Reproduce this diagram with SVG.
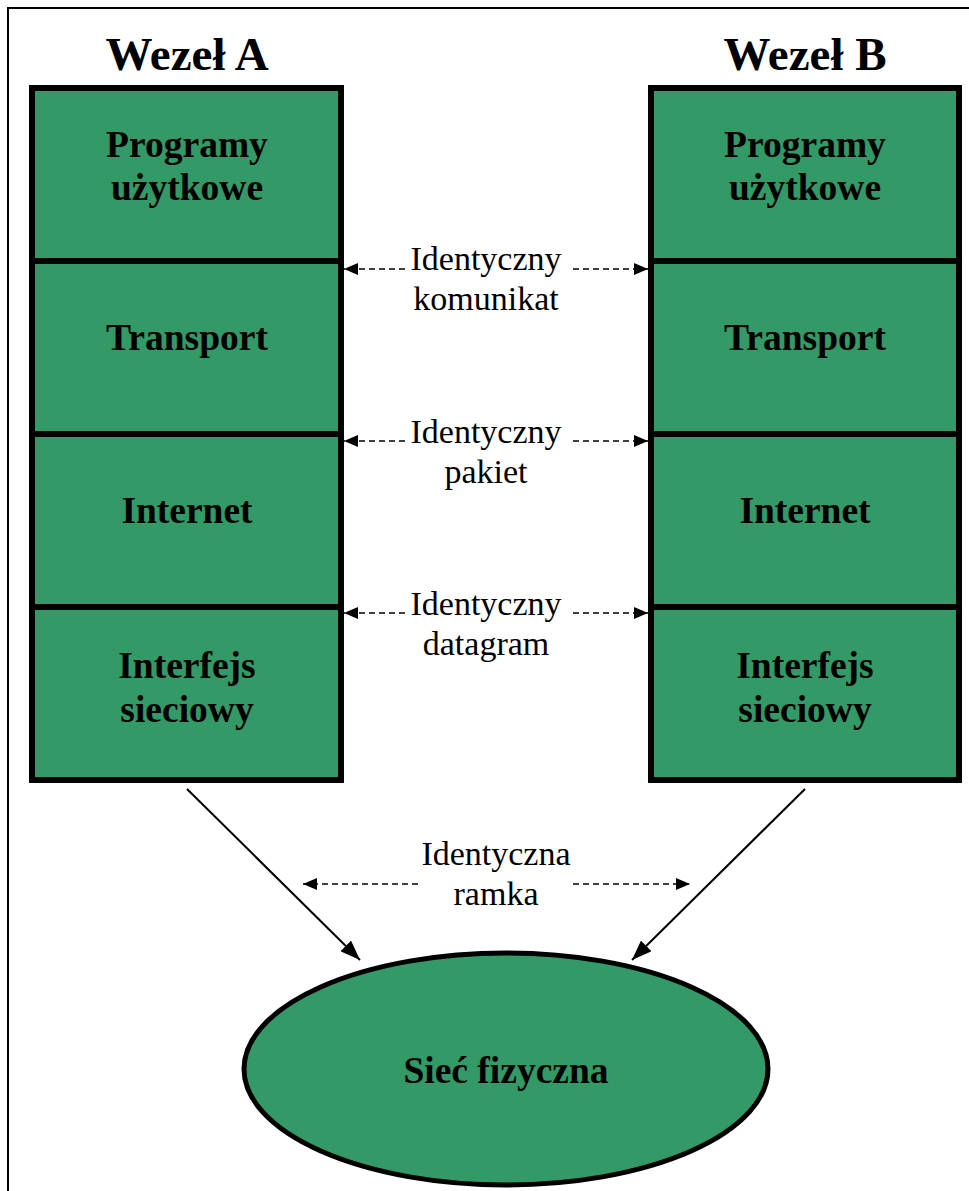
<svg xmlns="http://www.w3.org/2000/svg" width="969" height="1191" viewBox="0 0 969 1191">
<defs>
<marker id="ah" viewBox="0 0 14 12" refX="14" refY="6" markerWidth="14" markerHeight="12" markerUnits="userSpaceOnUse" orient="auto-start-reverse">
<path d="M0,0 L14,6 L0,12 Z" fill="#000"/>
</marker>
<marker id="ah2" viewBox="0 0 20 15" refX="20" refY="7.5" markerWidth="20" markerHeight="15" markerUnits="userSpaceOnUse" orient="auto">
<path d="M0,0 L20,7.5 L0,15 Z" fill="#000"/>
</marker>
<style>
.layer{fill:#339966;stroke:#000;stroke-width:6}
.bt{font-family:"Liberation Serif","Times New Roman",serif;font-weight:bold;font-size:37.5px;text-anchor:middle;fill:#000}
.ht{font-family:"Liberation Serif","Times New Roman",serif;font-weight:bold;font-size:47px;text-anchor:middle;fill:#000}
.lt{font-family:"Liberation Serif","Times New Roman",serif;font-size:34px;text-anchor:middle;fill:#000}
.dash{stroke:#000;stroke-width:1.5;stroke-dasharray:6 4;fill:none}
.solid{stroke:#000;stroke-width:2;fill:none}
</style>
</defs>
<rect x="0" y="0" width="969" height="1191" fill="#fff"/>
<rect x="8" y="8" width="1000" height="1300" fill="none" stroke="#000" stroke-width="2"/>

<g id="nodeA">
<text class="ht" x="187" y="70">Wezeł A</text>
<g id="A-app"><rect class="layer" x="32" y="88" width="309" height="173"/>
<text class="bt" x="187" y="157">Programy</text><text class="bt" x="187" y="200">użytkowe</text></g>
<g id="A-transport"><rect class="layer" x="32" y="261" width="309" height="173"/>
<text class="bt" x="187" y="350">Transport</text></g>
<g id="A-internet"><rect class="layer" x="32" y="434" width="309" height="173"/>
<text class="bt" x="187" y="523">Internet</text></g>
<g id="A-iface"><rect class="layer" x="32" y="607" width="309" height="173"/>
<text class="bt" x="187" y="678">Interfejs</text><text class="bt" x="187" y="722">sieciowy</text></g>
</g>

<g id="nodeB">
<text class="ht" x="805" y="70">Wezeł B</text>
<g id="B-app"><rect class="layer" x="651" y="88" width="308" height="173"/>
<text class="bt" x="805" y="157">Programy</text><text class="bt" x="805" y="200">użytkowe</text></g>
<g id="B-transport"><rect class="layer" x="651" y="261" width="308" height="173"/>
<text class="bt" x="805" y="350">Transport</text></g>
<g id="B-internet"><rect class="layer" x="651" y="434" width="308" height="173"/>
<text class="bt" x="805" y="523">Internet</text></g>
<g id="B-iface"><rect class="layer" x="651" y="607" width="308" height="173"/>
<text class="bt" x="805" y="678">Interfejs</text><text class="bt" x="805" y="722">sieciowy</text></g>
</g>

<g id="network">
<ellipse cx="506" cy="1069" rx="262" ry="116" fill="#339966" stroke="#000" stroke-width="5"/>
<text class="bt" x="506" y="1083">Sieć fizyczna</text>
</g>

<g id="connectors">
<path class="dash" d="M405,269 L344,269" marker-end="url(#ah)"/>
<path class="dash" d="M573,269 L648,269" marker-end="url(#ah)"/>
<path class="dash" d="M405,441 L344,441" marker-end="url(#ah)"/>
<path class="dash" d="M573,441 L648,441" marker-end="url(#ah)"/>
<path class="dash" d="M405,613 L344,613" marker-end="url(#ah)"/>
<path class="dash" d="M573,613 L648,613" marker-end="url(#ah)"/>
<path class="dash" d="M418,884 L303,884" marker-end="url(#ah)"/>
<path class="dash" d="M573,884 L690,884" marker-end="url(#ah)"/>
<path class="solid" d="M187,789 L360,960" marker-end="url(#ah2)"/>
<path class="solid" d="M805,789 L632,960" marker-end="url(#ah2)"/>
</g>

<g id="labels">
<text class="lt" x="486" y="270">Identyczny</text><text class="lt" x="486" y="310">komunikat</text>
<text class="lt" x="486" y="443">Identyczny</text><text class="lt" x="486" y="483">pakiet</text>
<text class="lt" x="486" y="615">Identyczny</text><text class="lt" x="486" y="655">datagram</text>
<text class="lt" x="496" y="865">Identyczna</text><text class="lt" x="496" y="905">ramka</text>
</g>
</svg>
